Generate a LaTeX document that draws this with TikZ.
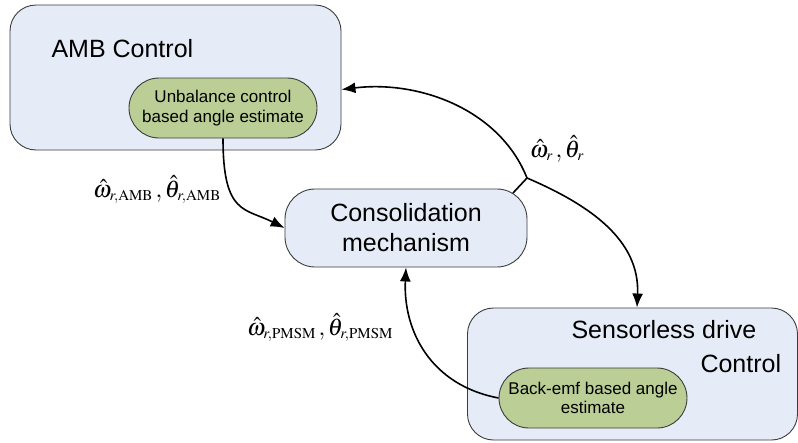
\documentclass[tikz,border=0pt]{standalone}
\usepackage{mathptmx}
\usepackage{fontspec}
\setmainfont{Liberation Sans}
\usetikzlibrary{arrows.meta}
\DeclareMathSizes{24}{24}{15}{11}

\definecolor{boxblue}{RGB}{230,236,247}
\definecolor{estgreen}{RGB}{186,206,150}
\definecolor{edgegray}{RGB}{60,60,60}

\tikzset{
    block/.style={draw=edgegray, fill=boxblue, rounded corners=26pt, line width=0.9pt},
    estimator/.style={draw=edgegray, fill=estgreen, rounded corners=30pt, line width=0.9pt,
        minimum width=188pt, minimum height=60pt, align=center,
        font=\fontsize{17}{19.5}\selectfont},
    flow/.style={line width=1.6pt, -{Latex[length=14pt,width=11pt]}},
    wire/.style={line width=1.6pt},
    sig/.style={anchor=base, inner sep=0pt, font=\fontsize{24}{28}\selectfont}
}

\begin{document}
\begin{tikzpicture}[x=1pt,y=-1pt]
        \useasboundingbox (0,0) rectangle (798,442);

        \node[block, minimum width=331pt, minimum height=145pt] (amb) at (175.5,77.5) {};
        \node[anchor=base west, font=\fontsize{25}{30}\selectfont] (ambtitle) at (48,57) {AMB Control};
        \node[estimator] (unbal) at (223,108) {Unbalance control\\based angle estimate};

        \node[block, rounded corners=30pt, minimum width=242pt, minimum height=78pt,
            align=center, font=\fontsize{25}{30}\selectfont] (consol) at (406,228) {Consolidation\\mechanism};

        \node[block, minimum width=330pt, minimum height=132pt] (sensorless) at (632.5,374) {};
        \node[anchor=base west, font=\fontsize{25}{30}\selectfont] (sltitle) at (568,338) {Sensorless drive};
        \node[anchor=base west, font=\fontsize{25}{30}\selectfont] (sltitleb) at (697,372) {Control};
        \node[estimator] (backemf) at (593,398) {Back-emf based angle\\estimate};

        % estimates from AMB side
        \draw[flow] (unbal.south) .. controls (223,215) and (245,208) .. (consol.west);
        \node[sig] (ambest) at (157,197) {$\hat{\omega}_{r,\mathrm{AMB}}\,,\hat{\theta}_{r,\mathrm{AMB}}$};

        % consolidated estimate fed back
        \coordinate (split) at (527,178);
        \coordinate (tap) at (513,193);
        \draw[wire] (tap) -- (split);
        \draw[flow] (split) .. controls (500,110) and (420,80) .. ([yshift=-12pt]amb.east);
        \draw[flow] (split) .. controls (590,205) and (640,240) .. ([xshift=4.5pt]sensorless.north);
        \node[sig] (fused) at (557,157) {$\hat{\omega}_{r}\,,\hat{\theta}_{r}$};

        % estimates from drive side
        \draw[flow] (backemf.west) .. controls (430,385) and (403,330) .. (consol.south);
        \node[sig] (pmsmest) at (320,335) {$\hat{\omega}_{r,\mathrm{PMSM}}\,,\hat{\theta}_{r,\mathrm{PMSM}}$};
    \end{tikzpicture}
\end{document}
